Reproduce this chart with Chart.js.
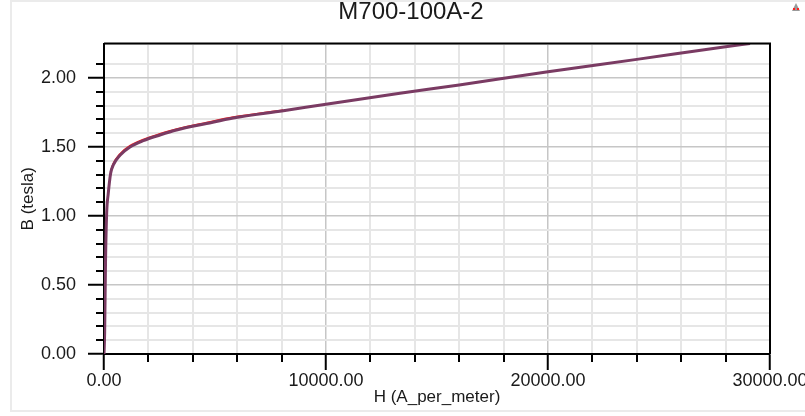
<!DOCTYPE html>
<html>
<head>
<meta charset="utf-8">
<script src="https://cdn.jsdelivr.net/npm/chart.js@4/dist/chart.umd.min.js"></script>
<style>
  html, body { margin: 0; padding: 0; background: #ffffff; }
  #wrap { width: 805px; height: 416px; }
</style>
</head>
<body>
<div id="wrap"><canvas id="c" width="805" height="416"></canvas></div>
<script>
// ---- data ----
const chartTitle = 'M700-100A-2';
const xTitle = 'H (A_per_meter)';
const yTitle = 'B (tesla)';

// fitted curve (purple)
const hValues = [0, 30, 70, 120, 190, 300, 420, 720, 1170, 1770, 2520, 3270, 4620, 5820, 8080, 10000, 13330, 16000, 20000, 24000, 28000, 29100];
const bValues = [0, 0.16, 0.68, 1.02, 1.16, 1.31, 1.37, 1.44, 1.50, 1.546, 1.587, 1.623, 1.67, 1.71, 1.763, 1.81, 1.889, 1.95, 2.046, 2.135, 2.227, 2.25];

// measured points (red, mostly hidden beneath the fit)
const redH = [300, 420, 720, 1170, 1770, 2520, 3270, 4620, 5820, 8080];
const redB = [1.318, 1.378, 1.449, 1.508, 1.553, 1.594, 1.629, 1.676, 1.715, 1.767];

// axis ranges / ticks
const xMin = 0, xMax = 30000, xStep = 2000, xMajor = 10000;
const yMin = 0, yMax = 2.25, yStep = 0.1, yMajor = 0.5;

const isMajor = (v, m) => Math.abs(v / m - Math.round(v / m)) < 1e-6;

const fitData = hValues.map((h, i) => ({ x: h, y: bValues[i] }));
const redData = redH.map((h, i) => ({ x: h, y: redB[i] }));

const FONT = 'Liberation Sans, Arial, sans-serif';
const TEXT = '#1a1a1a';

const decorPlugin = {
  id: 'decor',
  beforeDraw(chart) {
    const ctx = chart.ctx;
    ctx.save();
    ctx.fillStyle = '#ffffff';
    ctx.fillRect(0, 0, chart.width, chart.height);
    ctx.strokeStyle = '#ebebeb';
    ctx.lineWidth = 2;
    ctx.strokeRect(11, 1, 800, 410);
    ctx.restore();
  },
  afterDraw(chart) {
    const ctx = chart.ctx;
    const a = chart.chartArea;
    ctx.save();
    ctx.strokeStyle = '#000';
    ctx.lineWidth = 2;
    ctx.beginPath();
    ctx.moveTo(a.left, a.top);
    ctx.lineTo(a.right, a.top);
    ctx.lineTo(a.right, a.bottom);
    ctx.stroke();
    const xs = chart.scales.x, ys = chart.scales.y;
    ctx.beginPath();
    xs.ticks.forEach(t => {
      if (!isMajor(t.value, xMajor)) {
        const px = Math.round(xs.getPixelForValue(t.value));
        ctx.moveTo(px, a.bottom);
        ctx.lineTo(px, a.bottom + 8);
      }
    });
    ys.ticks.forEach(t => {
      if (!isMajor(t.value, yMajor) && t.value < yMax - 1e-6) {
        const py = Math.round(ys.getPixelForValue(t.value));
        ctx.moveTo(a.left - 8, py);
        ctx.lineTo(a.left, py);
      }
    });
    ctx.stroke();
    ctx.fillStyle = TEXT;
    ctx.font = '24px ' + FONT;
    ctx.textAlign = 'center';
    ctx.textBaseline = 'middle';
    ctx.fillText(chartTitle, 411, 12);
    ctx.fillStyle = '#9a9a9a';
    ctx.beginPath();
    ctx.moveTo(796, 3); ctx.lineTo(792, 11); ctx.lineTo(800, 11); ctx.closePath();
    ctx.fill();
    ctx.fillStyle = '#ff2020';
    ctx.fillRect(793, 8, 2, 2);
    ctx.fillRect(797, 8, 2, 2);
    ctx.restore();
  }
};

new Chart(document.getElementById('c'), {
  type: 'line',
  data: {
    datasets: [
      {
        label: 'fit',
        data: fitData,
        borderColor: '#7a3b63',
        borderWidth: 3,
        pointRadius: 0,
        cubicInterpolationMode: 'monotone',
        fill: false,
        order: 1
      },
      {
        label: 'measured',
        data: redData,
        borderColor: '#ff1a1a',
        borderWidth: 2,
        pointRadius: 0,
        cubicInterpolationMode: 'monotone',
        fill: false,
        order: 2
      }
    ]
  },
  options: {
    responsive: false,
    devicePixelRatio: 1,
    animation: false,
    layout: { padding: { left: 0, right: 35, top: 43.5, bottom: 0 } },
    plugins: {
      legend: { display: false },
      tooltip: { enabled: false },
      title: { display: false }
    },
    font: { family: FONT },
    scales: {
      x: {
        type: 'linear',
        min: xMin, max: xMax,
        afterFit(s) { s.height = 62; s.paddingLeft = 0; s.paddingRight = 0; },
        ticks: {
          stepSize: xStep,
          autoSkip: false,
          maxRotation: 0,
          padding: 0,
          color: TEXT,
          font: { family: FONT, size: 18 },
          callback: (v) => isMajor(v, xMajor) ? Number(v).toFixed(2) : ''
        },
        grid: {
          color: (c) => isMajor(c.tick.value, xMajor) ? '#c6c6c6' : '#e6e6e6',
          lineWidth: (c) => isMajor(c.tick.value, xMajor) ? 1.5 : 2,
          tickLength: 16,
          tickWidth: 2,
          tickColor: (c) => isMajor(c.tick.value, xMajor) ? '#000' : 'rgba(0,0,0,0)'
        },
        border: { color: '#000', width: 2 },
        title: {
          display: true,
          text: xTitle,
          color: TEXT,
          font: { family: FONT, size: 17 },
          padding: { top: 0, bottom: 8 }
        }
      },
      y: {
        type: 'linear',
        min: yMin, max: yMax,
        afterFit(s) { s.width = 104; s.paddingTop = 0; s.paddingBottom = 0; },
        ticks: {
          stepSize: yStep,
          autoSkip: false,
          padding: 12,
          color: TEXT,
          font: { family: FONT, size: 18 },
          callback: (v) => isMajor(v, yMajor) ? Number(v).toFixed(2) : ''
        },
        grid: {
          color: (c) => isMajor(c.tick.value, yMajor) ? '#c6c6c6' : '#e6e6e6',
          lineWidth: (c) => isMajor(c.tick.value, yMajor) ? 1.5 : 2,
          tickLength: 16,
          tickWidth: 2,
          tickColor: (c) => isMajor(c.tick.value, yMajor) ? '#000' : 'rgba(0,0,0,0)'
        },
        border: { color: '#000', width: 2 },
        title: {
          display: true,
          text: yTitle,
          color: TEXT,
          font: { family: FONT, size: 17 },
          padding: { top: 18, bottom: 0 }
        }
      }
    }
  },
  plugins: [decorPlugin]
});
</script>
</body>
</html>
